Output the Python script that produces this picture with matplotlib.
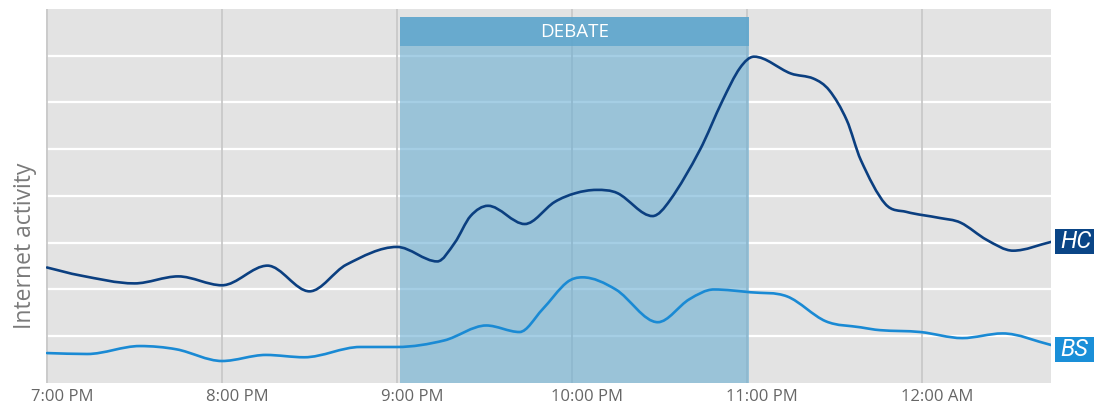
import numpy as np
import matplotlib
matplotlib.use('Agg')
import matplotlib.pyplot as plt
from matplotlib.path import Path
from matplotlib.patches import PathPatch, Rectangle
from matplotlib import transforms

# hours after 7:00 PM / activity index
hc_hours = [0.00, 0.19, 0.50, 0.75, 1.00, 1.26, 1.50, 1.71, 2.00, 2.23, 2.33, 2.42,
            2.52, 2.73, 2.90, 3.02, 3.14, 3.26, 3.46, 3.56, 3.73, 3.86, 3.96, 4.04,
            4.25, 4.38, 4.47, 4.57, 4.65, 4.79, 4.91, 5.10, 5.22, 5.37, 5.52, 5.74]
hc_values = [2.47, 2.30, 2.13, 2.28, 2.09, 2.51, 1.96, 2.53, 2.91, 2.60, 3.00, 3.57,
             3.79, 3.40, 3.87, 4.06, 4.13, 4.06, 3.57, 3.91, 4.98, 6.04, 6.74, 6.98,
             6.62, 6.51, 6.26, 5.62, 4.77, 3.83, 3.66, 3.53, 3.43, 3.06, 2.83, 3.02]

bs_hours = [0.00, 0.23, 0.53, 0.74, 1.00, 1.25, 1.47, 1.79, 2.00, 2.27, 2.51, 2.70,
            2.83, 2.97, 3.06, 3.25, 3.49, 3.67, 3.81, 4.02, 4.23, 4.45, 4.65, 4.76,
            4.99, 5.23, 5.46, 5.74]
bs_values = [0.64, 0.62, 0.79, 0.72, 0.47, 0.60, 0.55, 0.77, 0.77, 0.91, 1.23, 1.09,
             1.57, 2.15, 2.26, 2.00, 1.30, 1.79, 2.00, 1.94, 1.85, 1.32, 1.19, 1.13,
             1.09, 0.96, 1.06, 0.81]

tick_hours = [0, 1, 2, 3, 4, 5]
tick_labels = ['7:00 PM', '8:00 PM', '9:00 PM', '10:00 PM', '11:00 PM', '12:00 AM']
debate_start, debate_end = 2.017, 4.01

HC_COLOR = '#0b3f80'
BS_COLOR = '#1a8ad4'


def smooth_path(x, y):
    # cubic hermite through the points, flat at local extrema
    x = np.asarray(x, float)
    y = np.asarray(y, float)
    d = np.diff(y) / np.diff(x)
    m = np.zeros_like(y)
    m[0], m[-1] = d[0], d[-1]
    for i in range(1, len(y) - 1):
        if d[i - 1] * d[i] > 0:
            m[i] = (y[i + 1] - y[i - 1]) / (x[i + 1] - x[i - 1])
    verts = [(x[0], y[0])]
    codes = [Path.MOVETO]
    for i in range(len(x) - 1):
        h = x[i + 1] - x[i]
        verts += [(x[i] + h / 3, y[i] + m[i] * h / 3),
                  (x[i + 1] - h / 3, y[i + 1] - m[i + 1] * h / 3),
                  (x[i + 1], y[i + 1])]
        codes += [Path.CURVE4] * 3
    return Path(verts, codes)


fig = plt.figure(figsize=(10.94, 4.07), dpi=100)
ax = fig.add_axes([0.042, 0.059, 0.9187, 0.919])
ax.set_facecolor('#e3e3e3')
ax.set_xlim(-0.006, 5.737)
ax.set_ylim(0, 8)

for v in range(1, 8):
    ax.axhline(v, color='white', lw=1.6, zorder=1)
for h in tick_hours:
    ax.axvline(h, color='#c9c9c9', lw=1.3, zorder=1)

ax.axvspan(debate_start, debate_end, ymin=0, ymax=7.21 / 8, color='#6aaed2',
           alpha=0.6, lw=0, zorder=2)
ax.axvspan(debate_start, debate_end, ymin=7.21 / 8, ymax=7.83 / 8, color='#5ea5cd',
           alpha=0.92, lw=0, zorder=2)
ax.text((debate_start + debate_end) / 2, 7.51, 'DEBATE', color='white',
        ha='center', va='center', fontsize=13.5, family='Open Sans', zorder=5)

ax.add_patch(PathPatch(smooth_path(hc_hours, hc_values), fill=False,
                       edgecolor=HC_COLOR, lw=1.9, zorder=4, capstyle='round'))
ax.add_patch(PathPatch(smooth_path(bs_hours, bs_values), fill=False,
                       edgecolor=BS_COLOR, lw=1.9, zorder=4, capstyle='round'))

# series name tags at the right end
trans = transforms.blended_transform_factory(ax.transAxes, ax.transData)
px = 1 / (ax.get_position().width * fig.get_figwidth() * fig.dpi)
for name, vals, col, shift in [('HC', hc_values, '#0a4586', 0.0),
                               ('BS', bs_values, '#1a8fd8', -0.09)]:
    yc = vals[-1] + shift
    ax.add_patch(Rectangle((1 + 4 * px, yc - 0.265), 50 * px, 0.53, transform=trans,
                           fc=col, ec='none', clip_on=False, zorder=5))
    ax.text(1 + 9 * px, yc, name, transform=trans, ha='left', va='center',
            color='white', fontsize=17, style='italic', family='Roboto',
            zorder=6, clip_on=False)

# tick labels sit a little to the right of each hour line
xtrans = transforms.blended_transform_factory(ax.transData, ax.transAxes)
for h, lab in zip(tick_hours, tick_labels):
    ax.annotate(lab, xy=(h, 0), xycoords=xtrans, xytext=(15, -6),
                textcoords='offset pixels', ha='center', va='top',
                fontsize=12, color='#666666', family='Open Sans',
                annotation_clip=False)
ax.set_xticks([])
ax.set_yticks([])
for s in ax.spines.values():
    s.set_visible(False)

fig.text(25 / 1094, 1 - 246 / 407, 'Internet activity', rotation=90, ha='center',
         va='center', fontsize=16.5, color='#7a7a7a', family='Open Sans')

fig.savefig('out.png', dpi=100)
